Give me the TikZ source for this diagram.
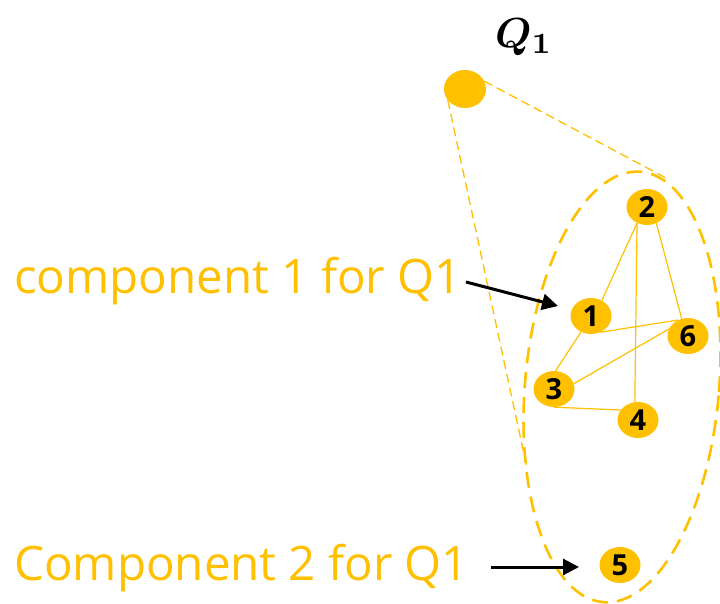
\documentclass[tikz,border=0pt]{standalone}
\usepackage{fontspec}
\usepackage{bm}
\setmainfont{Open Sans}
\usetikzlibrary{shapes.geometric,arrows.meta}
\definecolor{gold}{HTML}{FFC000}
\tikzset{
  vertex/.style={ellipse, fill=gold, draw=none, minimum width=41pt, minimum height=36pt,
    inner sep=0pt, font=\fontsize{29}{29}\selectfont\bfseries, text=black},
  edge/.style={draw=gold, line width=1.2pt},
  hull/.style={draw=gold, line width=1.3pt, dash pattern=on 9pt off 5pt},
  group/.style={draw=gold, line width=2.6pt, dash pattern=on 16pt off 9pt},
  caption/.style={anchor=base west, inner sep=0pt, text=gold, font=\fontsize{47.5}{48}\selectfont},
  pointer/.style={draw=black, line width=3pt, -{Triangle[length=16pt,width=16pt]}}
}
\begin{document}
\begin{tikzpicture}[x=1pt,y=-1pt]
\useasboundingbox (0,0) rectangle (720,604);

% query vertex and its label
\node[ellipse, fill=gold, minimum width=42pt, minimum height=38pt, inner sep=0pt] (q) at (465,89) {};
\node[inner sep=0pt] (qlabel) at (524,37) {\scalebox{4.2}{$\bm{Q_1}$}};

% enclosing region of both components
\coordinate (gc) at (622,387);
\draw[group, rotate around={-5:(gc)}] (gc) ellipse [x radius=97, y radius=216];

% cone from the query vertex to the region
\coordinate (hr) at (666,178);
\coordinate (hl) at (527,468);
\draw[hull] (q.22) -- (hr);
\draw[hull] (q.213) -- (hl);

% vertices
\node[vertex] (n2) at (647,207) {2};
\node[vertex] (n1) at (591,316) {1};
\node[vertex] (n6) at (688,336) {6};
\node[vertex] (n3) at (554,389) {3};
\node[vertex] (n4) at (638,420) {4};
\node[vertex] (n5) at (620,565) {5};

% edges of component 1
\draw[edge] (n2.238) -- (n1.55);
\draw[edge] (n2.238) -- (n4.100);
\draw[edge] (n2.300) -- (n6.110);
\draw[edge] (n1.300) -- (n6.122);
\draw[edge] (n1.238) -- (n3.85);
\draw[edge] (n3.15) -- (n6.160);
\draw[edge] (n3.270) -- (n4.150);

% captions
\node[caption] (c1) at (14,293) {component 1 for Q1};
\node[caption] (c2) at (14,580) {Component 2 for Q1};
\coordinate (a1s) at (466,282);
\coordinate (a1e) at (558,306);
\coordinate (a2s) at (491,567);
\coordinate (a2e) at (579,567);
\draw[pointer] (a1s) -- (a1e);
\draw[pointer] (a2s) -- (a2e);
\end{tikzpicture}
\end{document}
